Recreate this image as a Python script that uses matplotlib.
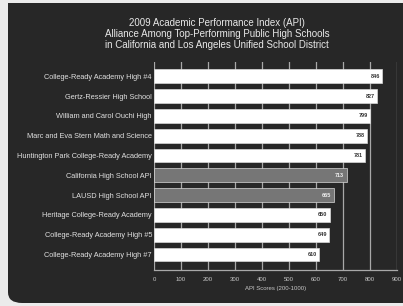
import matplotlib.pyplot as plt
from matplotlib.patches import FancyBboxPatch, Rectangle

schools = [
    "College-Ready Academy High #4",
    "Gertz-Ressier High School",
    "William and Carol Ouchi High",
    "Marc and Eva Stern Math and Science",
    "Huntington Park College-Ready Academy",
    "California High School API",
    "LAUSD High School API",
    "Heritage College-Ready Academy",
    "College-Ready Academy High #5",
    "College-Ready Academy High #7",
]
scores = [846, 827, 799, 788, 781, 713, 665, 650, 649, 610]
is_benchmark = [False, False, False, False, False, True, True, False, False, False]
x_ticks = [0, 100, 200, 300, 400, 500, 600, 700, 800, 900]

plt.rcParams['font.family'] = ['Liberation Sans Narrow', 'Liberation Sans', 'DejaVu Sans']

W, H = 403, 306
fig = plt.figure(figsize=(W / 100, H / 100), dpi=100)
fig.patch.set_facecolor('#ebebeb')

# dark panel with rounded bottom-left corner
panel_col = '#272727'
fig.patches.append(FancyBboxPatch((8 / W, 3 / H), 420 / W, 300 / H,
                                  boxstyle='round,pad=0,rounding_size=0.035',
                                  transform=fig.transFigure, facecolor=panel_col,
                                  edgecolor='none', zorder=0))
fig.patches.append(Rectangle((8 / W, 150 / H), 420 / W, 153 / H,
                             transform=fig.transFigure, facecolor=panel_col,
                             edgecolor='none', zorder=0))

ax = fig.add_axes([154 / W, 36 / H, 243 / W, 208 / H])
ax.set_facecolor('none')
ax.set_zorder(2)

ypos = list(range(len(schools)))
colors = ['#767676' if b else '#ffffff' for b in is_benchmark]
ax.barh(ypos, scores, height=0.7, color=colors, edgecolor='#d8d8d8', linewidth=0.5, zorder=3)

for y, v, b in zip(ypos, scores, is_benchmark):
    ax.text(v - 8, y, str(v), ha='right', va='center', fontsize=4,
            color='#f0f0f0' if b else '#333333', fontweight='bold', zorder=4)

ax.set_xlim(0, 900)
ax.set_ylim(9.78, -0.72)
ax.set_xticks(x_ticks)
ax.set_yticks(ypos)
ax.set_yticklabels(schools, fontsize=5.3, color='#e0e0e0')
ax.tick_params(axis='x', colors='#c8c8c8', labelsize=4.3, length=0, pad=5)
ax.tick_params(axis='y', length=0, pad=1.5)
ax.grid(axis='x', color='#a8a8a8', linewidth=0.9, zorder=1)
for side in ['top', 'right', 'left']:
    ax.spines[side].set_visible(False)
ax.spines['bottom'].set_color('#a8a8a8')
ax.spines['bottom'].set_linewidth(0.9)
ax.set_xlabel('API Scores (200-1000)', fontsize=4.3, color='#c8c8c8', labelpad=3)

fig.text(217 / W, 1 - 18 / H,
         "2009 Academic Performance Index (API)\n"
         "Alliance Among Top-Performing Public High Schools\n"
         "in California and Los Angeles Unified School District",
         ha='center', va='top', fontsize=7, color='#e8e8e8', linespacing=1.15)

fig.savefig('out.png', dpi=100, facecolor=fig.get_facecolor())
